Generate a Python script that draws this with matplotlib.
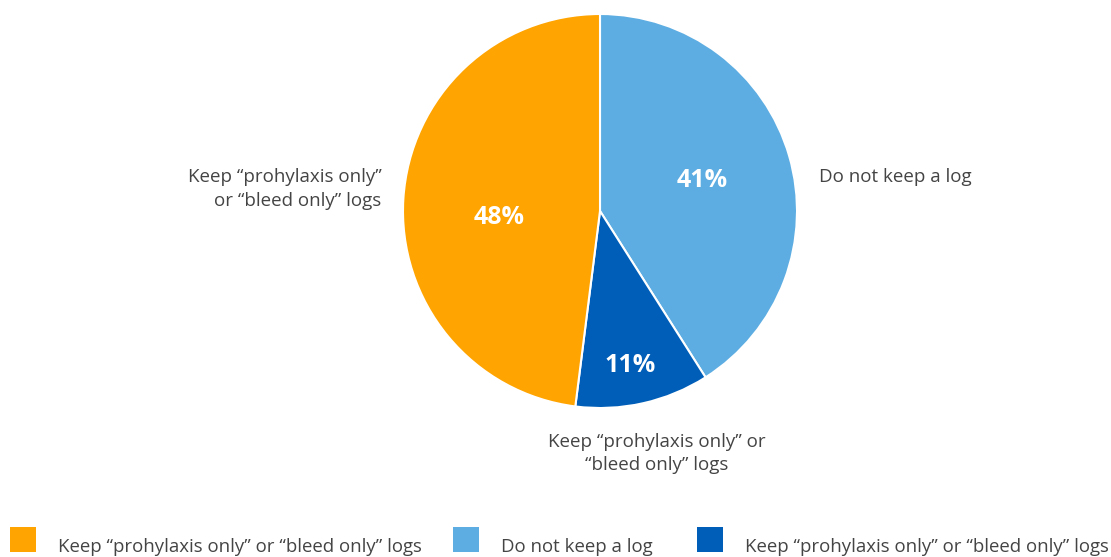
import numpy as np
import matplotlib.pyplot as plt
from matplotlib.patches import Rectangle

plt.rcParams['font.family'] = ['Open Sans', 'DejaVu Sans']

labels = ['Do not keep a log',
          'Keep \u201cprohylaxis only\u201d or\n\u201cbleed only\u201d logs',
          'Keep \u201cprohylaxis only\u201d\nor \u201cbleed only\u201d logs']
legend_labels = ['Keep \u201cprohylaxis only\u201d or \u201cbleed only\u201d logs',
                 'Do not keep a log',
                 'Keep \u201cprohylaxis only\u201d or \u201cbleed only\u201d logs']
values = [41, 11, 48]
colors = ['#5DADE2', '#005EB8', '#FFA400']
text_color = '#444444'

W, H = 1111, 557
fig = plt.figure(figsize=(W / 100, H / 100), dpi=100)
cx, cy, r = 600, 211, 197
ax = fig.add_axes([(cx - r) / W, (H - cy - r) / H, 2 * r / W, 2 * r / H])

wedges, _ = ax.pie(values, colors=colors, startangle=90, counterclock=False,
                   radius=1, wedgeprops=dict(edgecolor='white', linewidth=1.5))
ax.set_xlim(-1, 1)
ax.set_ylim(-1, 1)
ax.axis('off')

# percentage labels inside slices (distance from centre, angle nudge in deg)
pct_dist = [0.54, 0.80, 0.514]
pct_nudge = [0.5, -1.5, 7.3]
for w, v, d, n in zip(wedges, values, pct_dist, pct_nudge):
    ang = np.deg2rad((w.theta1 + w.theta2) / 2 + n)
    ax.text(d * np.cos(ang), d * np.sin(ang), f'{v}%', color='white',
            fontsize=18, fontweight='bold', ha='center', va='center')

# category labels outside
ax.text(1.11, 0.173, labels[0], color=text_color, fontsize=13.5,
        ha='left', va='center')
ax.text(0.29, -1.231, labels[1], color=text_color, fontsize=13.5,
        ha='center', va='center', linespacing=1.4, multialignment='center')
ax.text(-1.11, 0.112, labels[2], color=text_color, fontsize=13.5,
        ha='right', va='center', linespacing=1.4, multialignment='right')

# legend row
leg_x = [10, 453, 697]
for x, lab, c in zip(leg_x, legend_labels, [colors[2], colors[0], colors[1]]):
    fig.add_artist(Rectangle((x / W, (H - 552) / H), 26 / W, 25 / H,
                             transform=fig.transFigure, color=c, lw=0))
    fig.text((x + 48) / W, (H - 547) / H, lab, color=text_color,
             fontsize=13.4, ha='left', va='center')

fig.savefig('out.png', dpi=100)
